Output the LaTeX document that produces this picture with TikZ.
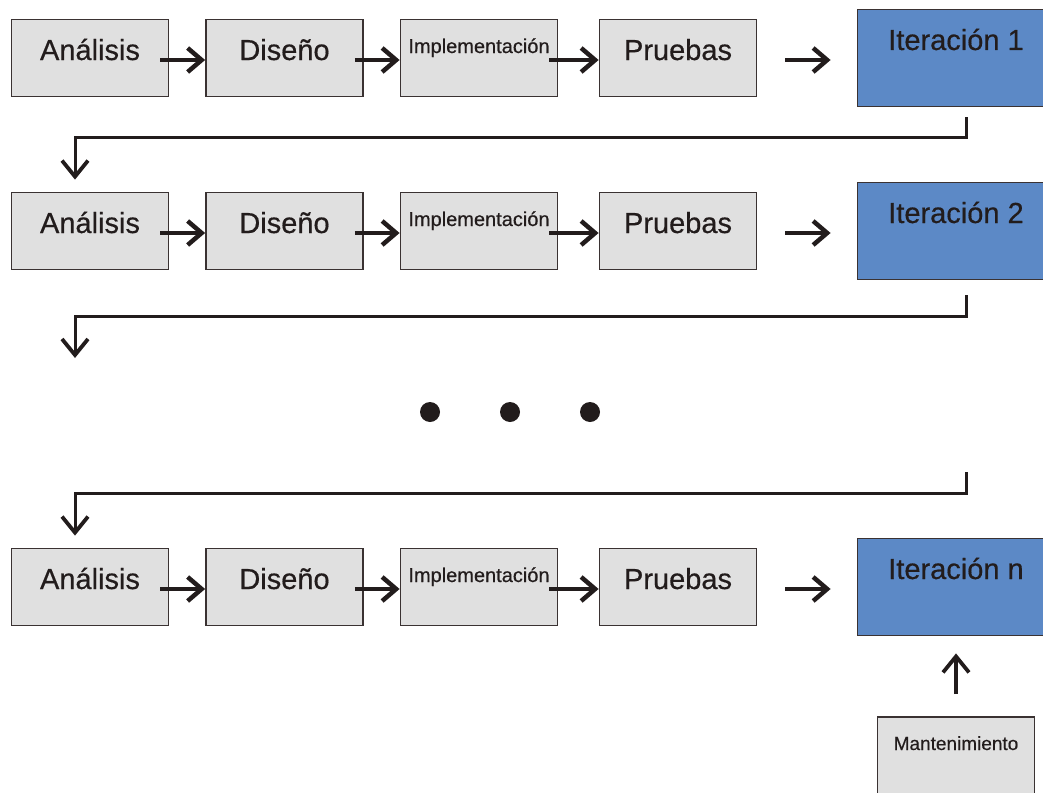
\documentclass[tikz,border=0pt]{standalone}
\usepackage{fontspec}
\setmainfont{Liberation Sans}[FakeBold=0.5]
\usetikzlibrary{arrows.meta,calc}
\definecolor{boxgray}{RGB}{224,224,224}
\definecolor{edge}{RGB}{58,50,50}
\definecolor{iterblue}{RGB}{92,137,198}
\definecolor{ink}{RGB}{34,28,28}

\begin{document}
\begin{tikzpicture}[x=1pt,y=-1pt,
  phase/.style={draw=edge,line width=1.8pt,fill=boxgray,inner sep=0pt,
    minimum width=157pt,minimum height=77pt,text=ink,
    font=\fontsize{29}{30}\selectfont,text height=20pt,text depth=16pt},
  implbox/.style={phase,font=\fontsize{20}{21}\selectfont,text height=15pt,text depth=25pt},
  iterbox/.style={draw=edge,line width=1.8pt,fill=iterblue,inner sep=0pt,
    minimum width=197pt,minimum height=97pt,text=ink,
    font=\fontsize{29}{30}\selectfont,text height=20pt,text depth=36pt},
  maintbox/.style={phase,minimum height=97pt,font=\fontsize{19}{20}\selectfont,
    text height=13.6pt,text depth=44.6pt},
  flow/.style={draw=ink,line width=4.5pt,-{Straight Barb[length=14pt,width=24pt,line width=4.5pt]}},
  link/.style={draw=ink,line width=3pt,-{Straight Barb[length=16pt,width=26pt,line width=3.8pt]}},
  rise/.style={draw=ink,line width=3.6pt,-{Straight Barb[length=16pt,width=26pt,line width=3.8pt]}},
]
\begin{scope}
\clip (0,0) rectangle (1043,792);

% three rows of phases, each ending in an iteration
\foreach \r/\yc/\lab in {1/58/1, 2/231/2, 3/587/n}{
  \node[phase]   (A\r) at (90,\yc)    {Análisis};
  \node[phase]   (D\r) at (284.5,\yc) {Diseño};
  \node[implbox] (M\r) at (479,\yc)   {Implementación};
  \node[phase]   (P\r) at (678,\yc)   {Pruebas};
  \node[iterbox] (I\r) at (956,\yc)   {Iteración \lab};
  \draw[flow] ($(A\r.east)+(-9,2)$) -- ($(D\r.west)+(0,2)$);
  \draw[flow] ($(D\r.east)+(-9,2)$) -- ($(M\r.west)+(0,2)$);
  \draw[flow] ($(M\r.east)+(-9,2)$) -- ($(P\r.west)+(0,2)$);
  \draw[flow] ($(P\r.east)+(28,2)$) -- ($(I\r.west)+(-26,2)$);
}

% returns from one iteration to the next row
\draw[link] ($(I1.south)+(10,10)$) -- ++(0,20) -| ($(A2.north)+(-15,-12)$);
\coordinate (d2) at (75,358);
\draw[link] ($(I2.south)+(10,15)$) -- ++(0,21) -| (d2);
\coordinate (u3) at (966,472);
\draw[link] (u3) -- ++(0,21) -| ($(A3.north)+(-15,-12)$);

% ellipsis between iterations
\fill[ink] (430,412) circle (10pt);
\fill[ink] (510,412) circle (10pt);
\fill[ink] (590,412) circle (10pt);

% maintenance feeding the last iteration
\node[maintbox] (Mt) at (956,765.5) {Mantenimiento};
\draw[rise] ($(Mt.north)+(0,-22)$) -- ($(I3.south)+(0,17)$);
\end{scope}
\pgfresetboundingbox
\useasboundingbox (0,0) rectangle (1043,792);
\end{tikzpicture}
\end{document}
